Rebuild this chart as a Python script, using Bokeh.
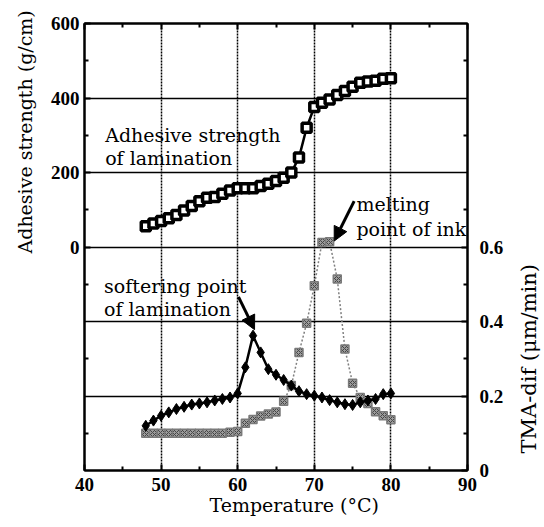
import math
from bokeh.plotting import figure
from bokeh.models import (Range1d, LinearAxis, FixedTicker, CustomJSTickFormatter,
                          Label, Arrow, NormalHead, Title)
from bokeh.embed import file_html
from bokeh.resources import INLINE

# ---------------- data ----------------
temperature = list(range(48, 81))
adhesive_strength = [56, 63, 70, 77, 86, 98, 110, 123, 132, 134, 143, 152, 158, 158, 158,
                     164, 170, 177, 186, 200, 240, 320, 376, 387, 396, 408, 419, 430, 441,
                     444, 446, 452, 453]
tma_lamination = [0.120, 0.134, 0.147, 0.156, 0.165, 0.171, 0.177, 0.180, 0.183, 0.188,
                  0.192, 0.196, 0.207, 0.277, 0.362, 0.317, 0.272, 0.257, 0.243, 0.228,
                  0.213, 0.205, 0.201, 0.196, 0.189, 0.183, 0.178, 0.176, 0.183, 0.188,
                  0.192, 0.205, 0.207]
tma_ink = [0.100, 0.100, 0.100, 0.100, 0.100, 0.100, 0.100, 0.100, 0.100, 0.100, 0.100,
           0.103, 0.105, 0.127, 0.137, 0.146, 0.152, 0.157, 0.186, 0.228, 0.317, 0.395,
           0.496, 0.612, 0.614, 0.514, 0.326, 0.234, 0.196, 0.180, 0.158, 0.147, 0.136]

x_ticks = [40, 50, 60, 70, 80, 90]
left_ticks = [0, 200, 400, 600]
right_ticks = [0, 0.2, 0.4, 0.6]

SERIF = "DejaVu Serif"
TICKF = "Liberation Serif"

p = figure(width=544, height=527, x_range=Range1d(40, 90), y_range=Range1d(-600, 600),
           output_backend="svg", toolbar_location=None,
           x_axis_location=None, y_axis_location=None,
           min_border_left=82, min_border_right=77, min_border_top=23, min_border_bottom=57)
p.extra_y_ranges = {"tma": Range1d(0, 1.2)}
p.background_fill_color = "white"
p.border_fill_color = "white"
p.outline_line_color = "black"
p.outline_line_width = 2


def style_axis(ax):
    ax.axis_line_color = "black"
    ax.axis_line_width = 2
    ax.major_tick_in = 6
    ax.major_tick_out = 0
    ax.minor_tick_in = 4
    ax.minor_tick_out = 0
    ax.major_tick_line_width = 2
    ax.minor_tick_line_width = 2
    ax.major_tick_line_color = "black"
    ax.minor_tick_line_color = "black"
    ax.major_label_text_font = TICKF
    ax.major_label_text_font_style = "bold"
    ax.major_label_text_color = "black"
    ax.major_label_text_font_size = "19px"


xb = LinearAxis(ticker=FixedTicker(ticks=x_ticks, minor_ticks=[45, 55, 65, 75, 85]))
style_axis(xb)
xb.major_label_standoff = 7
p.add_layout(xb, "below")
p.add_layout(Title(text="Temperature (\u00b0C)", align="left", offset=125,
                   vertical_align="top", standoff=0, text_font=SERIF,
                   text_font_size="19px", text_font_style="normal",
                   text_color="black"), "below")

# top edge: inward ticks only, no labels
xt = LinearAxis(ticker=FixedTicker(ticks=x_ticks, minor_ticks=[45, 55, 65, 75, 85]),
                formatter=CustomJSTickFormatter(code="return '';"))
style_axis(xt)
xt.major_label_text_font_size = "1px"
xt.major_label_standoff = 0
p.add_layout(xt, "above")

yl = LinearAxis(ticker=FixedTicker(ticks=left_ticks, minor_ticks=[-500, -300, -100, 100, 300, 500]))
style_axis(yl)
yl.major_label_standoff = 5
p.add_layout(yl, "left")

# left title over the upper half of the frame
p.add_layout(Title(text="Adhesive strength (g/cm)", align="left", offset=217,
                   standoff=23, text_font=SERIF, text_font_size="19px",
                   text_font_style="normal", text_color="black"), "left")

yr = LinearAxis(y_range_name="tma",
                ticker=FixedTicker(ticks=right_ticks, minor_ticks=[0.1, 0.3, 0.5, 0.7, 0.9, 1.1]),
                formatter=CustomJSTickFormatter(code="return tick == 0 ? '0' : tick.toFixed(1);"))
style_axis(yr)
yr.major_label_standoff = 12
p.add_layout(yr, "right")

# right title: bottom-to-top, centred on the lower half (placed in the right side panel)
p.add_layout(Label(x=98.05, y=0.3, y_range_name="tma", text="TMA-dif (\u03bcm/min)",
                   angle=math.pi / 2, text_align="center", text_baseline="middle",
                   text_font=SERIF, text_font_size="21px", text_color="black"), "right")

# grids
p.xgrid.ticker = FixedTicker(ticks=[50, 60, 70, 80])
p.xgrid.grid_line_color = "black"
p.xgrid.grid_line_width = 1.5
p.xgrid.grid_line_dash = "2 1"
p.ygrid.ticker = FixedTicker(ticks=[-400, -200, 0, 200, 400])
p.ygrid.grid_line_color = "black"
p.ygrid.grid_line_width = 1.6

# series
p.line(temperature, tma_ink, y_range_name="tma", line_color="#808080", line_width=1.5,
       line_dash="2 2")
p.scatter(temperature, tma_ink, y_range_name="tma", marker="square", size=8,
          fill_color="#9c9c9c", line_color="#7a7a7a", line_width=1.5,
          hatch_pattern="x", hatch_color="#454545", hatch_scale=4, hatch_weight=1)

p.line(temperature, tma_lamination, y_range_name="tma", line_color="black", line_width=2.5)
p.scatter(temperature, tma_lamination, y_range_name="tma", marker="diamond", size=11,
          fill_color="black", line_color="black")

p.line(temperature, adhesive_strength, line_color="black", line_width=2.5)
p.scatter(temperature, adhesive_strength, marker="square", size=9, fill_color="white",
          line_color="black", line_width=3.5)

# annotations


def add_text(x, y, txt, rng="default", size="19px"):
    p.add_layout(Label(x=x, y=y, text=txt, y_range_name=rng, text_font=SERIF,
                       text_font_size=size, text_color="black", text_baseline="alphabetic"))


add_text(42.7, 302, "Adhesive strength")
add_text(42.7, 240, "of lamination")
add_text(75.5, 0.716, "melting", "tma")
add_text(75.5, 0.647, "point of ink", "tma")
add_text(42.55, 0.496, "softering point", "tma")
add_text(42.55, 0.433, "of lamination", "tma")

p.add_layout(Arrow(end=NormalHead(size=14, fill_color="black", line_color="black"),
                   x_start=75.2, y_start=0.723, x_end=72.6, y_end=0.616,
                   y_range_name="tma", line_width=3, line_color="black"))
p.add_layout(Arrow(end=NormalHead(size=14, fill_color="black", line_color="black"),
                   x_start=60.1, y_start=0.466, x_end=62.2, y_end=0.378,
                   y_range_name="tma", line_width=3, line_color="black"))

open("out.html", "w").write(file_html(p, INLINE))
